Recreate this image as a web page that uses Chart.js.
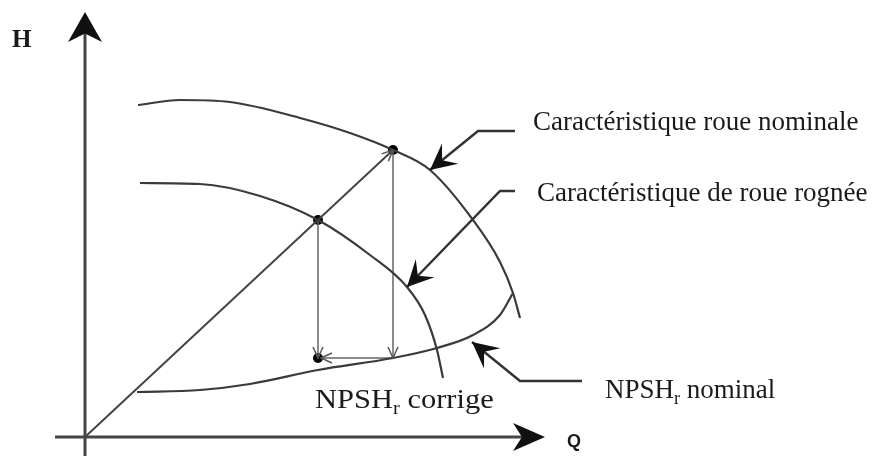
<!DOCTYPE html>
<html>
<head>
<meta charset="utf-8">
<script src="https://cdn.jsdelivr.net/npm/chart.js@4.4.1/dist/chart.umd.min.js"></script>
<style>
    html, body { margin: 0; padding: 0; background: #fff; }
</style>
</head>
<body>
<canvas id="pumpChart" width="877" height="456"></canvas>
<script>
// Curves (Q, H) in schematic units, origin at axis intersection
const nominalQ = [53, 95, 145, 215, 265, 308, 345, 388, 415, 428, 435];
const nominalH = [332, 337, 335, 319, 304, 287, 267, 217, 175, 144, 119];

const trimmedQ = [55, 115, 175, 233, 285, 322, 340, 352, 358];
const trimmedH = [254, 253, 241, 217, 182, 150, 122, 87, 59];

const npshQ = [52, 115, 165, 233, 308, 352, 388, 415, 428];
const npshH = [45, 47, 53, 67, 79, 89, 102, 122, 144];

// Construction points: A nominal duty, B trimmed duty, C corrected NPSH, D nominal NPSH
const constrQ = [308, 233, 233, 308];
const constrH = [287, 217, 79, 79];

// Axes ends
const axisQ = [-30, 460];
const axisH = [-19, 425];

// Leader arrows (polyline, last point is the tip)
const leaders = [
    { q: [430, 393, 345], h: [306, 306, 267] },
    { q: [430, 415, 322], h: [246, 246, 150] },
    { q: [497, 435, 387], h: [56, 56, 95] }
];

const labels = [
    { text: 'Caractéristique roue nominale', q: 448, h: 314 },
    { text: 'Caractéristique de roue rognée', q: 452, h: 243 }
];

const toPts = (qs, hs) => qs.map((q, i) => ({ x: q, y: hs[i] }));

function arrowHead(ctx, tip, from, len, half, notch, fill) {
    const a = Math.atan2(tip.y - from.y, tip.x - from.x);
    const cos = Math.cos(a), sin = Math.sin(a);
    const pt = (l, w) => ({ x: tip.x - l * cos - w * sin, y: tip.y - l * sin + w * cos });
    const p1 = pt(len, half), p2 = pt(len, -half), pn = pt(len * notch, 0);
    ctx.beginPath();
    if (fill) {
        ctx.moveTo(tip.x, tip.y);
        ctx.lineTo(p1.x, p1.y);
        ctx.lineTo(pn.x, pn.y);
        ctx.lineTo(p2.x, p2.y);
        ctx.closePath();
        ctx.fill();
    } else {
        ctx.moveTo(p1.x, p1.y);
        ctx.lineTo(tip.x, tip.y);
        ctx.lineTo(p2.x, p2.y);
        ctx.stroke();
    }
}

function npshLabel(ctx, x, y, rest, size, stretch) {
    ctx.save();
    ctx.translate(x, y);
    ctx.scale(stretch, 1);
    ctx.font = size + 'px "Liberation Serif", serif';
    ctx.textBaseline = 'middle';
    ctx.textAlign = 'left';
    ctx.fillText('NPSH', 0, 0);
    let w = ctx.measureText('NPSH').width;
    ctx.font = Math.round(size * 0.65) + 'px "Liberation Serif", serif';
    ctx.fillText('r', w, size * 0.3);
    w += ctx.measureText('r').width;
    ctx.font = size + 'px "Liberation Serif", serif';
    ctx.fillText(rest, w, 0);
    ctx.restore();
}

const schematicPlugin = {
    id: 'schematic',
    afterDatasetsDraw(chart) {
        const ctx = chart.ctx;
        const sx = chart.scales.x, sy = chart.scales.y;
        const P = (q, h) => ({ x: sx.getPixelForValue(q), y: sy.getPixelForValue(h) });
        ctx.save();

        // axis arrowheads
        ctx.fillStyle = '#111';
        arrowHead(ctx, P(0, axisH[1]), P(0, 0), 30, 17, 0.72, true);
        arrowHead(ctx, P(axisQ[1], 0), P(0, 0), 32, 14, 0.72, true);

        // construction arrowheads
        ctx.strokeStyle = '#555';
        ctx.lineWidth = 1.5;
        const A = P(constrQ[0], constrH[0]), B = P(constrQ[1], constrH[1]);
        const C = P(constrQ[2], constrH[2]), D = P(constrQ[3], constrH[3]);
        arrowHead(ctx, A, P(0, 0), 11, 5, 0, false);
        arrowHead(ctx, D, A, 11, 5, 0, false);
        arrowHead(ctx, C, B, 11, 5, 0, false);
        arrowHead(ctx, { x: C.x + 3, y: C.y }, D, 11, 5, 0, false);

        // leader arrows
        ctx.strokeStyle = '#333';
        ctx.fillStyle = '#111';
        ctx.lineWidth = 2.5;
        leaders.forEach(l => {
            const pts = l.q.map((q, i) => P(q, l.h[i]));
            ctx.beginPath();
            ctx.moveTo(pts[0].x, pts[0].y);
            pts.slice(1).forEach(p => ctx.lineTo(p.x, p.y));
            ctx.stroke();
            arrowHead(ctx, pts[pts.length - 1], pts[pts.length - 2], 26, 13, 0.6, true);
        });

        // text
        ctx.fillStyle = '#1a1a1a';
        ctx.textBaseline = 'middle';
        ctx.textAlign = 'left';
        ctx.font = '27px "Liberation Serif", serif';
        labels.forEach(l => {
            const p = P(l.q, l.h);
            ctx.fillText(l.text, p.x, p.y);
        });

        const pn = P(520, 46);
        npshLabel(ctx, pn.x, pn.y, ' nominal', 27, 1.0);

        const pc = P(230, 36);
        ctx.fillStyle = '#fff';
        ctx.fillRect(pc.x - 18, pc.y - 18, 213, 36);
        ctx.fillStyle = '#1a1a1a';
        npshLabel(ctx, pc.x, pc.y, ' corrige', 27, 1.13);

        ctx.font = 'bold 25px "Liberation Serif", serif';
        const ph = P(-73, 396);
        ctx.fillText('H', ph.x, ph.y);
        ctx.font = 'bold 18px "Liberation Sans", sans-serif';
        const pq = P(482, -5);
        ctx.fillText('Q', pq.x, pq.y);

        ctx.restore();
    }
};

const curve = (pts, color, width) => ({
    data: pts,
    showLine: true,
    borderColor: color,
    borderWidth: width,
    pointRadius: 0,
    cubicInterpolationMode: 'monotone',
    fill: false
});

const straight = (pts, color, width) => ({
    data: pts,
    showLine: true,
    borderColor: color,
    borderWidth: width,
    pointRadius: 0,
    tension: 0,
    fill: false
});

new Chart(document.getElementById('pumpChart').getContext('2d'), {
    type: 'scatter',
    data: {
        datasets: [
            straight([{ x: 0, y: axisH[0] }, { x: 0, y: axisH[1] - 10 }], '#444', 3),
            straight([{ x: axisQ[0], y: 0 }, { x: axisQ[1] - 10, y: 0 }], '#444', 3),
            curve(toPts(nominalQ, nominalH), '#3a3a3a', 2.2),
            curve(toPts(trimmedQ, trimmedH), '#3a3a3a', 2.2),
            curve(toPts(npshQ, npshH), '#3a3a3a', 2.2),
            straight([{ x: 0, y: 0 }, { x: constrQ[0], y: constrH[0] }], '#444', 2),
            straight([{ x: constrQ[0], y: constrH[0] }, { x: constrQ[3], y: constrH[3] }], '#666', 1.5),
            straight([{ x: constrQ[1], y: constrH[1] }, { x: constrQ[2], y: constrH[2] }], '#666', 1.5),
            straight([{ x: constrQ[3], y: constrH[3] }, { x: constrQ[2] + 3, y: constrH[2] }], '#666', 1.5),
            {
                data: toPts(constrQ.slice(0, 3), constrH.slice(0, 3)),
                showLine: false,
                pointRadius: 5,
                pointBackgroundColor: '#000',
                pointBorderWidth: 0
            }
        ]
    },
    options: {
        responsive: false,
        animation: false,
        events: [],
        layout: { padding: 0, autoPadding: false },
        scales: {
            x: { type: 'linear', min: -85, max: 792, display: false },
            y: { type: 'linear', min: -19, max: 437, display: false }
        },
        plugins: {
            legend: { display: false },
            tooltip: { enabled: false }
        }
    },
    plugins: [schematicPlugin]
});
</script>
</body>
</html>
